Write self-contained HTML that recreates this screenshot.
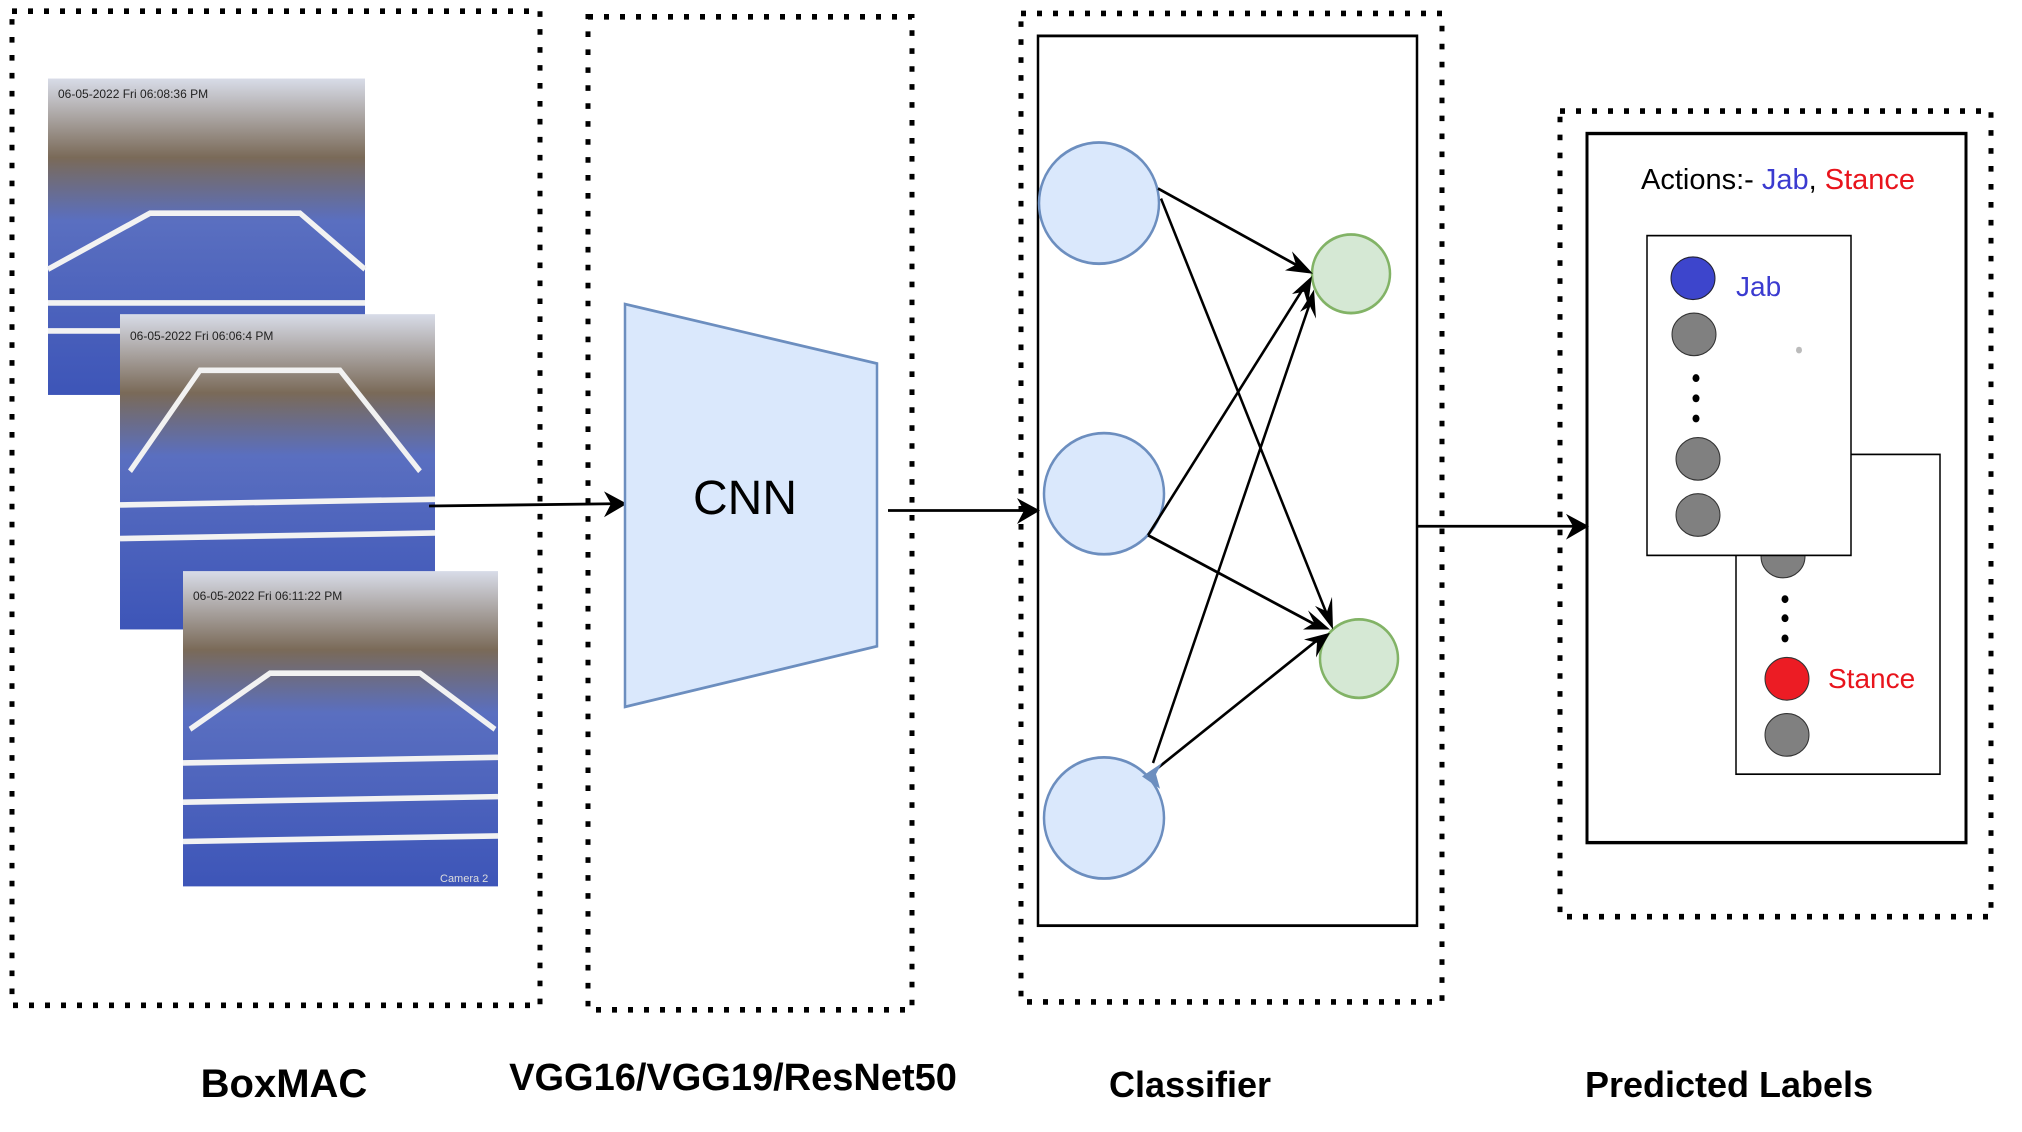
<!DOCTYPE html>
<html><head><meta charset="utf-8"><style>
html,body{margin:0;padding:0;background:#fff;}
svg{display:block;}
text{font-family:"Liberation Sans",sans-serif;}
</style></head><body>
<svg width="2022" height="1132" viewBox="0 0 2022 1132" xmlns="http://www.w3.org/2000/svg">
<defs>
<linearGradient id="sky" x1="0" y1="0" x2="0" y2="1">
<stop offset="0" stop-color="#d8dce8"/><stop offset="0.25" stop-color="#7a6a58"/><stop offset="0.45" stop-color="#5a6fc0"/><stop offset="1" stop-color="#3d55b8"/>
</linearGradient>
</defs>
<g transform="scale(1,1.122)">
<g fill="none" stroke="#000" stroke-width="5" stroke-dasharray="5 11">
<rect x="12" y="10" width="528" height="886"/>
<rect x="588" y="15" width="324" height="885"/>
<rect x="1021" y="12" width="421" height="881"/>
<rect x="1560" y="99" width="431" height="718"/>
</g>
<g>
<rect x="48" y="70" width="317" height="282" fill="url(#sky)"/>
<g stroke="#f2f2f2" stroke-width="5" fill="none"><path d="M48 240 L150 190 L300 190 L365 240"/><path d="M48 270 L365 270"/><path d="M48 295 L365 295"/></g>
<rect x="120" y="280" width="315" height="281" fill="url(#sky)"/>
<g stroke="#f2f2f2" stroke-width="5" fill="none"><path d="M130 420 L200 330 L340 330 L420 420"/><path d="M120 450 L435 445"/><path d="M120 480 L435 475"/></g>
<rect x="183" y="509" width="315" height="281" fill="url(#sky)"/>
<g stroke="#f2f2f2" stroke-width="5" fill="none"><path d="M190 650 L270 600 L420 600 L495 650"/><path d="M183 680 L498 675"/><path d="M183 715 L498 710"/><path d="M183 750 L498 745"/></g>
</g>
<line x1="429" y1="451" x2="612" y2="449" stroke="#000" stroke-width="2.5"/>
<path d="M627 449 L604 438 L611 449 L604 461 Z" fill="#000"/>
<polygon points="625,271 877,324 877,576 625,630" fill="#dae8fc" stroke="#6c8ebf" stroke-width="2.5"/>
<line x1="888" y1="455" x2="1025" y2="455" stroke="#000" stroke-width="2.5"/>
<path d="M1040 455 L1017 444 L1024 455 L1017 467 Z" fill="#000"/>
<rect x="1038" y="32" width="379" height="793" fill="none" stroke="#000" stroke-width="2.5"/>
<g fill="#dae8fc" stroke="#6c8ebf" stroke-width="2.5">
<ellipse cx="1099" cy="181" rx="60" ry="54"/>
<ellipse cx="1104" cy="440" rx="60" ry="54"/>
<ellipse cx="1104" cy="729" rx="60" ry="54"/>
</g>
<g fill="#d5e8d4" stroke="#82b366" stroke-width="2.5">
<ellipse cx="1351" cy="244" rx="39" ry="35"/>
<ellipse cx="1359" cy="587" rx="39" ry="35"/>
</g>
<g stroke="#000" stroke-width="2.5">
<line x1="1158" y1="168" x2="1300" y2="238"/>
<line x1="1161" y1="177" x2="1328" y2="550"/>
<line x1="1148" y1="477" x2="1304" y2="256"/>
<line x1="1148" y1="477" x2="1318" y2="558"/>
<line x1="1153" y1="680" x2="1310" y2="270"/>
<line x1="1150" y1="690" x2="1318" y2="570"/>
</g>
<g fill="#000">
<path d="M1313 244 L1285 241 L1296 236 L1292 224 Z"/>
<path d="M1333 561 L1315 540 L1327 545 L1332 532 Z"/>
<path d="M1312 246 L1308 272 L1304 260 L1292 262 Z"/>
<path d="M1330 561 L1303 561 L1314 555 L1308 544 Z"/>
<path d="M1314 258 L1316 284 L1310 273 L1300 278 Z"/>
<path d="M1330 564 L1316 586 L1317 573 L1304 570 Z"/>
</g>
<path d="M1142 692 L1162 680 L1156 690 L1160 703 Z" fill="#6c8ebf"/>
<line x1="1417" y1="469" x2="1574" y2="469" stroke="#000" stroke-width="2.5"/>
<path d="M1589 469 L1566 458 L1573 469 L1566 481 Z" fill="#000"/>
<rect x="1587" y="119" width="379" height="632" fill="none" stroke="#000" stroke-width="3"/>
<rect x="1736" y="405" width="204" height="285" fill="#fff" stroke="#000" stroke-width="1.5"/>
<ellipse cx="1783" cy="496" rx="22" ry="19" fill="#808080" stroke="#333" stroke-width="1"/>
<rect x="1647" y="210" width="204" height="285" fill="#fff" stroke="#000" stroke-width="1.5"/>
<ellipse cx="1693" cy="248" rx="22" ry="19" fill="#3d45cc" stroke="#223" stroke-width="1"/>
<ellipse cx="1694" cy="298" rx="22" ry="19" fill="#808080" stroke="#333" stroke-width="1"/>
<circle cx="1799" cy="312" r="3" fill="#bbb"/>
<g fill="#000"><circle cx="1696" cy="337" r="3.5"/><circle cx="1696" cy="355" r="3.5"/><circle cx="1696" cy="373" r="3.5"/>
<circle cx="1785" cy="534" r="3.5"/><circle cx="1785" cy="551" r="3.5"/><circle cx="1785" cy="569" r="3.5"/></g>
<ellipse cx="1698" cy="409" rx="22" ry="19" fill="#808080" stroke="#333" stroke-width="1"/>
<ellipse cx="1698" cy="459" rx="22" ry="19" fill="#808080" stroke="#333" stroke-width="1"/>
<ellipse cx="1787" cy="605" rx="22" ry="19" fill="#ec1c24" stroke="#333" stroke-width="1"/>
<ellipse cx="1787" cy="655" rx="22" ry="19" fill="#808080" stroke="#333" stroke-width="1"/>
</g>
<text x="58" y="98" font-size="12" fill="#222">06-05-2022 Fri 06:08:36 PM</text>
<text x="130" y="340" font-size="12" fill="#222">06-05-2022 Fri 06:06:4 PM</text>
<text x="193" y="600" font-size="12" fill="#222">06-05-2022 Fri 06:11:22 PM</text>
<text x="440" y="882" font-size="11" fill="#ddd">Camera 2</text>
<text x="745" y="514" font-size="48" text-anchor="middle">CNN</text>
<text x="1641" y="189" font-size="29" fill="#000">Actions:- <tspan fill="#3b3bd0">Jab</tspan>, <tspan fill="#e8141c">Stance</tspan></text>
<text x="1736" y="296" font-size="28" fill="#3b3bd0">Jab</text>
<text x="1828" y="688" font-size="28" fill="#e8141c">Stance</text>
<g font-weight="bold" text-anchor="middle" fill="#000">
<text x="284" y="1097" font-size="40">BoxMAC</text>
<text x="733" y="1090" font-size="38">VGG16/VGG19/ResNet50</text>
<text x="1190" y="1097" font-size="36">Classifier</text>
<text x="1729" y="1097" font-size="36">Predicted Labels</text>
</g>
</svg>
</body></html>
